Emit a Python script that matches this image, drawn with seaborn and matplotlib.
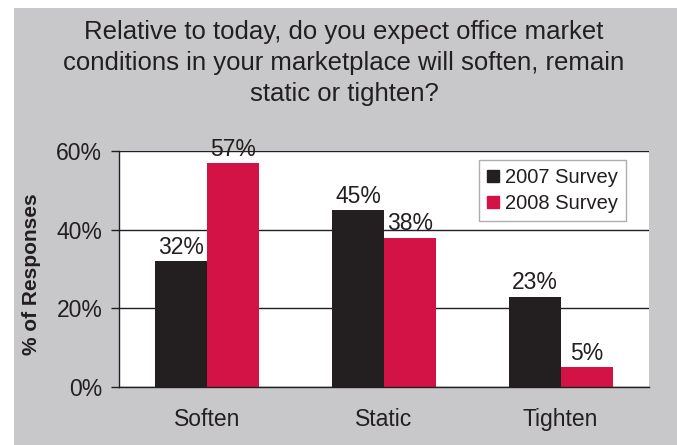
import matplotlib
matplotlib.use("Agg")
import matplotlib.pyplot as plt
import seaborn as sns
import pandas as pd
from matplotlib.lines import Line2D
from matplotlib.patches import Rectangle

categories = ["Soften", "Static", "Tighten"]
surveys = ["2007 Survey", "2008 Survey"]
values_2007 = [32, 45, 23]
values_2008 = [57, 38, 5]
y_ticks = [0, 20, 40, 60]

title = ("Relative to today, do you expect office market\n"
         "conditions in your marketplace will soften, remain\n"
         "static or tighten?")

bg = "#c8c8ca"
ink = "#231f20"
colors = ["#231f20", "#d31245"]

df = pd.DataFrame({
    "condition": categories * 2,
    "survey": [surveys[0]] * 3 + [surveys[1]] * 3,
    "pct": values_2007 + values_2008,
})

sns.set_style("white")
plt.rcParams["font.family"] = ["Liberation Sans", "DejaVu Sans"]

W, H = 677, 445
fig = plt.figure(figsize=(W / 100, H / 100), dpi=100, facecolor="white")
# grey panel behind the chart, leaving a thin white margin at top and left
fig.patches.append(Rectangle((14 / W, 0), 1, 1 - 8 / H, transform=fig.transFigure,
                             facecolor=bg, edgecolor="none", zorder=-10))

ax = fig.add_axes([119 / W, 1 - 387 / H, (649 - 119) / W, (387 - 151) / H])
ax.set_facecolor("white")

sns.barplot(data=df, x="condition", y="pct", hue="survey", order=categories,
            hue_order=surveys, palette=colors, width=0.59, gap=0,
            saturation=1, linewidth=0, ax=ax, legend=False)

for cont in ax.containers:
    ax.bar_label(cont, fmt="%d%%", padding=1.5, fontsize=16.5, color=ink)

ax.set_ylim(0, 60)
ax.set_xlim(-0.5, 2.5)
ax.set_yticks(y_ticks)
ax.set_yticklabels([f"{t}%" for t in y_ticks], fontsize=16.5, color=ink)
ax.yaxis.grid(True, color=ink, linewidth=1)
ax.set_axisbelow(True)

ax.set_xticks(range(3))
ax.set_xticklabels(categories, fontsize=16.5, color=ink)
ax.set_xticks([-0.5, 0.5, 1.5, 2.5], minor=True)
ax.tick_params(axis="x", which="major", length=0, pad=15)
ax.tick_params(axis="x", which="minor", length=6, width=1, color=ink, direction="out")
ax.tick_params(axis="y", length=6, width=1, color=ink, direction="out", left=True, pad=6)

for s in ["top", "right"]:
    ax.spines[s].set_visible(False)
for s in ["left", "bottom"]:
    ax.spines[s].set_color(ink)
    ax.spines[s].set_linewidth(1)

ax.set_xlabel("")
ax.set_ylabel("% of Responses", fontsize=15, fontweight="bold", color=ink)
ax.yaxis.set_label_coords((41 - 119) / (649 - 119), 0.48)

handles = [Line2D([0], [0], marker="s", linestyle="none", markersize=9,
                  markerfacecolor=c, markeredgecolor=c) for c in colors]
leg = ax.legend(handles, surveys, loc="upper right",
                bbox_to_anchor=((626 - 119) / (649 - 119), (387 - 160) / (387 - 151)),
                borderaxespad=0, frameon=True, fancybox=False, fontsize=14.5,
                handlelength=0.6, handletextpad=0.3, labelspacing=0.35,
                borderpad=0.4)
leg.get_frame().set_edgecolor("#9a9a9a")
leg.get_frame().set_linewidth(1)
for t in leg.get_texts():
    t.set_color(ink)

fig.text(344 / W, 1 - 20 / H, title, ha="center", va="top", fontsize=18.5,
         color=ink, linespacing=1.38)

fig.savefig("out.png", dpi=100, facecolor="white")
